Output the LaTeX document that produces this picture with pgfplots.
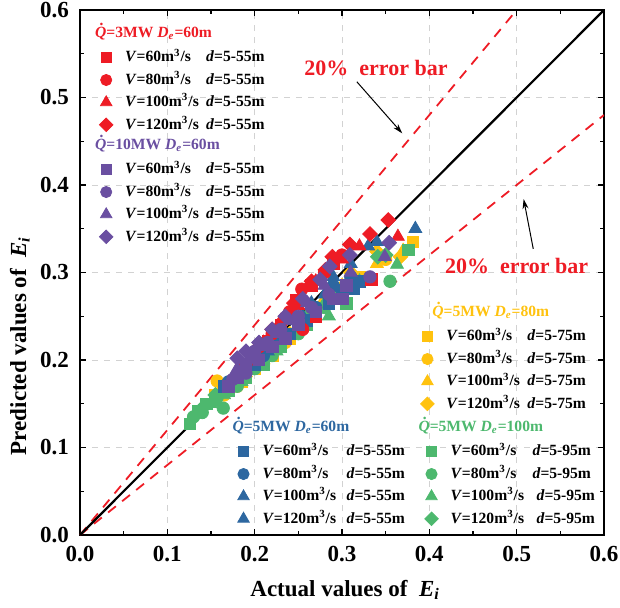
\documentclass[border=0pt]{standalone}
\usepackage{fontspec}
\setmainfont{Liberation Serif}
\usepackage{pgfplots}
\pgfplotsset{compat=1.18}
\usetikzlibrary{arrows.meta}
\definecolor{cR}{HTML}{EE1C25}
\definecolor{cP}{HTML}{6A4FA1}
\definecolor{cY}{HTML}{FFC20E}
\definecolor{cB}{HTML}{2D67A0}
\definecolor{cG}{HTML}{4DB86E}
\newcommand{\Qd}{\textit{Q}\llap{\raisebox{0.72em}{\textit{.}}\hspace{0.16em}}}
\newcommand{\De}{\textit{D}\textsubscript{\textit{e}}}
\newcommand{\VV}[3]{\makebox[#3][l]{\textit{V}=#1m\textsuperscript{3}/s}\textit{d}=#2}
\newcommand{\Ttl}[2]{\hspace*{#1}\raisebox{1.2pt}{#2}}
\pgfplotsset{
  sq/.style={only marks, mark=square*, mark size=2.9pt, forget plot},
  ci/.style={only marks, mark=*, mark size=3.1pt, forget plot},
  tr/.style={only marks, mark=triangle*, mark size=3.7pt, forget plot},
  di/.style={only marks, mark=square*, mark size=2.6pt, mark options={rotate=45}, forget plot},
  lsq/.style={draw=none, mark=square*, mark size=2.5pt},
  lci/.style={draw=none, mark=*, mark size=2.8pt},
  ltr/.style={draw=none, mark=triangle*, mark size=3.3pt},
  ldi/.style={draw=none, mark=square*, mark size=2.4pt, mark options={rotate=45}},
  mylegend/.style={legend style={draw=none, fill=none, inner sep=0pt,
      font=\fontsize{7.8}{9}\selectfont\bfseries, row sep=2.4pt, column sep=0pt,
      nodes={inner sep=0.5pt, text height=6pt, text depth=1.8pt},
      /tikz/every odd column/.style={column sep=5pt}},
    legend cell align=left,
    legend image code/.code={\path (-4pt,0pt) (4pt,0pt); \draw[##1] plot coordinates {(0pt,0pt)};}},
}
\begin{document}
\begin{tikzpicture}
\begin{axis}[
  at={(0pt,0pt)}, anchor=south west,
  scale only axis, width=262pt, height=262.5pt,
  xmin=0, xmax=0.6, ymin=0, ymax=0.6,
  xtick={0,0.1,0.2,0.3,0.4,0.5,0.6}, ytick={0,0.1,0.2,0.3,0.4,0.5,0.6},
  minor tick num=1,
  tick align=inside, tick pos=both,
  major tick length=3pt, minor tick length=2pt,
  every tick/.style={black, line width=0.7pt},
  axis line style={line width=0.9pt},
  grid=major, major grid style={dashed, gray!35, line width=0.45pt},
  ticklabel style={/pgf/number format/fixed, /pgf/number format/fixed zerofill, /pgf/number format/precision=1, /pgf/number format/assume math mode=true, font=\fontsize{11.5}{13}\selectfont\bfseries},
  yticklabel style={xshift=-2pt},
  xticklabel style={yshift=-2pt},
  xlabel={Actual values of \ \textit{E}\textsubscript{\textit{i}}},
  ylabel={Predicted values of \ \textit{E}\textsubscript{\textit{i}}},
  label style={font=\fontsize{11.5}{13}\selectfont\bfseries},
  xlabel style={at={(axis description cs:0.506,0)}, anchor=center, yshift=-27.5pt},
  ylabel style={at={(axis description cs:-0.115,0.36)}, anchor=center},
  mylegend,
  legend style={at={(0.034,0.9695)}, anchor=north west},
]
\addplot[draw=cR, dash pattern=on 5pt off 4pt, line width=0.9pt, forget plot] coordinates {(0,0) (0.5,0.6)};
\addplot[draw=cR, dash pattern=on 5pt off 4pt, line width=0.9pt, forget plot] coordinates {(0,0) (0.6,0.48)};
\addplot[black, line width=1.1pt, forget plot] coordinates {(0,0) (0.6,0.6)};
% yellow: 5MW De=80m
\addplot[cY, sq] coordinates {(0.155,0.160)(0.170,0.165)(0.185,0.175)(0.200,0.190)(0.220,0.205)(0.240,0.225)(0.260,0.240)(0.290,0.270)(0.320,0.295)(0.381,0.335)};
\addplot[cY, ci] coordinates {(0.157,0.176)(0.165,0.160)(0.180,0.170)(0.195,0.190)(0.215,0.205)(0.235,0.220)(0.255,0.240)(0.280,0.265)(0.310,0.290)(0.350,0.315)};
\addplot[cY, tr] coordinates {(0.160,0.165)(0.175,0.170)(0.190,0.185)(0.210,0.200)(0.230,0.220)(0.250,0.235)(0.275,0.260)(0.300,0.285)(0.340,0.310)(0.370,0.325)};
\addplot[cY, di] coordinates {(0.165,0.170)(0.180,0.178)(0.200,0.195)(0.220,0.210)(0.240,0.230)(0.260,0.250)(0.285,0.275)(0.310,0.300)(0.340,0.324)(0.367,0.318)};
% green: 5MW De=100m
\addplot[cG, sq] coordinates {(0.126,0.127)(0.135,0.142)(0.145,0.150)(0.155,0.155)(0.170,0.165)(0.190,0.180)(0.210,0.195)(0.230,0.215)(0.260,0.240)(0.300,0.275)(0.305,0.265)(0.376,0.326)};
\addplot[cG, ci] coordinates {(0.130,0.135)(0.140,0.140)(0.157,0.157)(0.164,0.145)(0.180,0.170)(0.200,0.190)(0.220,0.205)(0.250,0.230)(0.280,0.260)(0.355,0.290)};
\addplot[cG, tr] coordinates {(0.135,0.138)(0.150,0.150)(0.165,0.160)(0.185,0.175)(0.205,0.195)(0.225,0.210)(0.250,0.235)(0.280,0.265)(0.285,0.250)(0.320,0.290)(0.363,0.309)};
\addplot[cG, di] coordinates {(0.140,0.145)(0.155,0.160)(0.170,0.170)(0.190,0.185)(0.210,0.200)(0.235,0.225)(0.260,0.250)(0.290,0.275)(0.341,0.318)(0.350,0.320)};
% blue: 5MW De=60m
\addplot[cB, sq] coordinates {(0.165,0.170)(0.180,0.180)(0.200,0.195)(0.220,0.215)(0.240,0.230)(0.260,0.245)(0.285,0.265)(0.300,0.280)(0.313,0.282)(0.320,0.290)};
\addplot[cB, ci] coordinates {(0.170,0.175)(0.190,0.190)(0.210,0.205)(0.230,0.225)(0.250,0.240)(0.270,0.260)(0.290,0.285)(0.310,0.295)};
\addplot[cB, tr] coordinates {(0.175,0.180)(0.195,0.195)(0.215,0.210)(0.235,0.230)(0.255,0.250)(0.280,0.275)(0.310,0.310)(0.384,0.350)};
\addplot[cB, tr] coordinates {(0.180,0.185)(0.200,0.200)(0.220,0.220)(0.245,0.245)(0.265,0.265)(0.290,0.295)(0.330,0.330)(0.340,0.335)};
% red: 3MW De=60m
\addplot[cR, sq] coordinates {(0.185,0.190)(0.200,0.205)(0.215,0.222)(0.230,0.240)(0.248,0.268)(0.265,0.285)(0.290,0.310)(0.334,0.292)(0.270,0.250)};
\addplot[cR, ci] coordinates {(0.190,0.195)(0.205,0.215)(0.220,0.230)(0.240,0.255)(0.254,0.281)(0.255,0.235)(0.280,0.300)(0.300,0.320)};
\addplot[cR, tr] coordinates {(0.195,0.200)(0.210,0.220)(0.230,0.245)(0.250,0.262)(0.270,0.290)(0.300,0.315)(0.320,0.330)(0.364,0.341)};
\addplot[cR, di] coordinates {(0.200,0.210)(0.220,0.235)(0.245,0.265)(0.265,0.290)(0.281,0.303)(0.289,0.318)(0.309,0.332)(0.332,0.344)(0.353,0.360)};
% purple: 10MW De=60m
\addplot[cP, sq] coordinates {(0.170,0.170)(0.180,0.180)(0.190,0.195)(0.205,0.200)(0.220,0.215)(0.235,0.225)(0.250,0.240)(0.270,0.255)(0.290,0.270)(0.301,0.270)(0.305,0.285)};
\addplot[cP, ci] coordinates {(0.175,0.178)(0.190,0.185)(0.200,0.210)(0.215,0.220)(0.230,0.235)(0.250,0.250)(0.265,0.260)(0.285,0.275)(0.332,0.295)};
\addplot[cP, tr] coordinates {(0.180,0.190)(0.195,0.200)(0.210,0.215)(0.225,0.230)(0.240,0.245)(0.260,0.265)(0.280,0.285)(0.310,0.300)(0.349,0.318)};
\addplot[cP, di] coordinates {(0.180,0.202)(0.190,0.210)(0.205,0.220)(0.220,0.235)(0.235,0.250)(0.255,0.270)(0.275,0.292)(0.286,0.307)(0.309,0.320)(0.354,0.334)};
% annotations
\node[text=cR, font=\fontsize{11}{13}\selectfont\bfseries] at (axis cs:0.339,0.534) {20\%\ \ error bar};
\draw[-{Stealth[length=5pt,width=3pt]}, line width=0.5pt] (axis cs:0.317,0.518) -- (axis cs:0.369,0.459);
\node[text=cR, font=\fontsize{11}{13}\selectfont\bfseries] at (axis cs:0.500,0.307) {20\%\ \ error bar};
\draw[-{Stealth[length=5pt,width=3pt]}, line width=0.5pt] (axis cs:0.519,0.327) -- (axis cs:0.508,0.384);
% legend 1
\addlegendimage{empty legend}\addlegendentry{\Ttl{-15pt}{\textcolor{cR}{\Qd=3MW \De=60m}}}
\addlegendimage{cR, lsq}\addlegendentry{\VV{60}{5-55m}{40.5pt}}
\addlegendimage{cR, lci}\addlegendentry{\VV{80}{5-55m}{40.5pt}}
\addlegendimage{cR, ltr}\addlegendentry{\VV{100}{5-55m}{40.5pt}}
\addlegendimage{cR, ldi}\addlegendentry{\VV{120}{5-55m}{40.5pt}}
\addlegendimage{empty legend}\addlegendentry{\Ttl{-15pt}{\textcolor{cP}{\Qd=10MW \De=60m}}}
\addlegendimage{cP, lsq}\addlegendentry{\VV{60}{5-55m}{40.5pt}}
\addlegendimage{cP, lci}\addlegendentry{\VV{80}{5-55m}{40.5pt}}
\addlegendimage{cP, ltr}\addlegendentry{\VV{100}{5-55m}{40.5pt}}
\addlegendimage{cP, ldi}\addlegendentry{\VV{120}{5-55m}{40.5pt}}
\coordinate (sw) at (rel axis cs:0,0);
\coordinate (ne) at (rel axis cs:1,1);
\end{axis}
% legend 2 (yellow)
\begin{axis}[at={(0pt,0pt)}, anchor=south west, scale only axis, width=262pt, height=262.5pt,
  hide axis, xmin=0, xmax=1, ymin=0, ymax=1, mylegend,
  legend style={at={(0.647,0.438)}, anchor=north west}]
\addlegendimage{empty legend}\addlegendentry{\Ttl{-7pt}{\textcolor{cY}{\Qd=5MW \De=80m}}}
\addlegendimage{cY, lsq}\addlegendentry{\VV{60}{5-75m}{40.5pt}}
\addlegendimage{cY, lci}\addlegendentry{\VV{80}{5-75m}{40.5pt}}
\addlegendimage{cY, ltr}\addlegendentry{\VV{100}{5-75m}{40.5pt}}
\addlegendimage{cY, ldi}\addlegendentry{\VV{120}{5-75m}{40.5pt}}
\end{axis}
% legend 3 (blue + green)
\begin{axis}[at={(0pt,0pt)}, anchor=south west, scale only axis, width=262pt, height=262.5pt,
  hide axis, xmin=0, xmax=1, ymin=0, ymax=1, mylegend,
  legend columns=2,
  legend style={at={(0.296,0.219)}, anchor=north west}]
\addlegendimage{empty legend}\addlegendentry{\makebox[80pt][l]{\Ttl{-15pt}{\textcolor{cB}{\Qd=5MW \De=60m}}}}
\addlegendimage{empty legend}\addlegendentry{\Ttl{-16pt}{\textcolor{cG}{\Qd=5MW \De=100m}}}
\addlegendimage{cB, lsq}\addlegendentry{\makebox[78pt][l]{\VV{60}{5-55m}{42pt}}}
\addlegendimage{cG, lsq}\addlegendentry{\VV{60}{5-95m}{41pt}}
\addlegendimage{cB, lci}\addlegendentry{\makebox[78pt][l]{\VV{80}{5-55m}{42pt}}}
\addlegendimage{cG, lci}\addlegendentry{\VV{80}{5-95m}{41pt}}
\addlegendimage{cB, ltr}\addlegendentry{\makebox[78pt][l]{\VV{100}{5-55m}{42pt}}}
\addlegendimage{cG, ltr}\addlegendentry{\VV{100}{5-95m}{43pt}}
\addlegendimage{cB, ltr}\addlegendentry{\makebox[78pt][l]{\VV{120}{5-55m}{42pt}}}
\addlegendimage{cG, ldi}\addlegendentry{\VV{120}{5-95m}{43pt}}
\end{axis}
\pgfresetboundingbox
\path[use as bounding box] ([xshift=-40pt,yshift=-36pt]sw) rectangle ([xshift=8pt,yshift=5pt]ne);
\end{tikzpicture}
\end{document}
